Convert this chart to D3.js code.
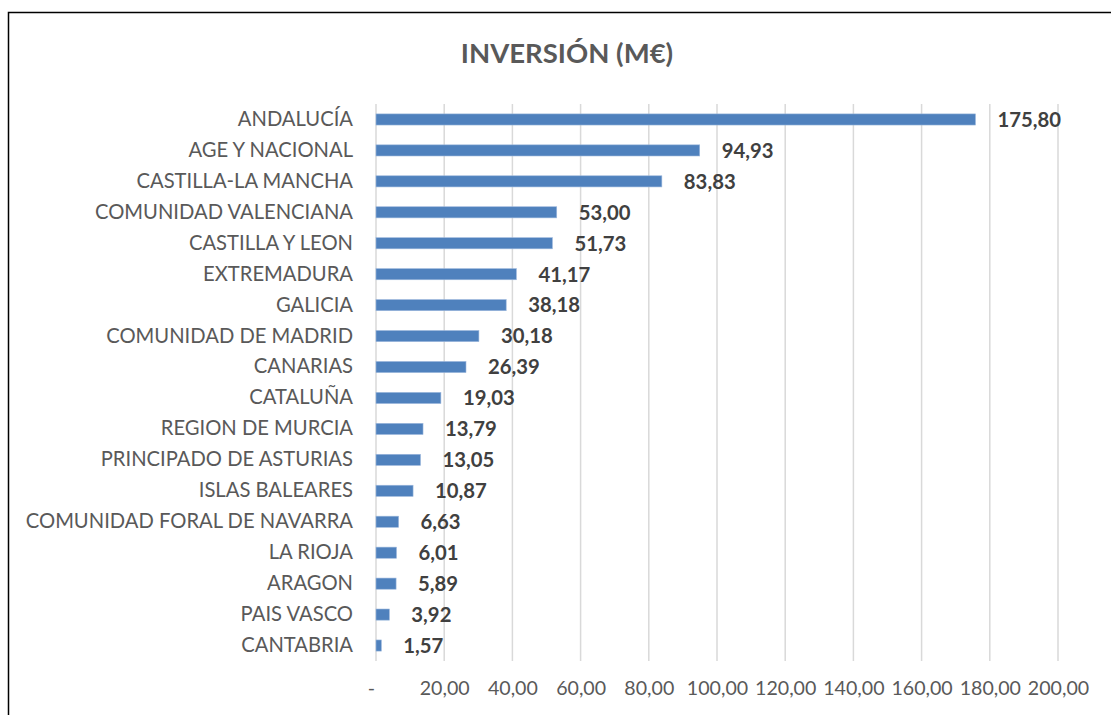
<!DOCTYPE html>
<html lang="es">
<head>
<meta charset="utf-8"/>
<title>Inversión (M€)</title>
<script src="https://cdn.jsdelivr.net/npm/d3@7"></script>
<style>
  body { margin: 0; background: #ffffff; }
  svg { display: block; font-family: Lato, "Open Sans", sans-serif; }
</style>
</head>
<body>
<svg id="chart"></svg>
<script>
const regions = [
  'ANDALUCÍA', 'AGE Y NACIONAL', 'CASTILLA-LA MANCHA', 'COMUNIDAD VALENCIANA',
  'CASTILLA Y LEON', 'EXTREMADURA', 'GALICIA', 'COMUNIDAD DE MADRID',
  'CANARIAS', 'CATALUÑA', 'REGION DE MURCIA', 'PRINCIPADO DE ASTURIAS',
  'ISLAS BALEARES', 'COMUNIDAD FORAL DE NAVARRA', 'LA RIOJA', 'ARAGON',
  'PAIS VASCO', 'CANTABRIA'
]
const inversion = [
  175.80, 94.93, 83.83, 53.00, 51.73, 41.17, 38.18, 30.18, 26.39,
  19.03, 13.79, 13.05, 10.87, 6.63, 6.01, 5.89, 3.92, 1.57
]
const ticks = [0, 20, 40, 60, 80, 100, 120, 140, 160, 180, 200]

const width = 1111
const height = 715

const svg = d3.select('#chart')
  .attr('width', width)
  .attr('height', height)

// chart frame (runs off the right and bottom edge)
svg.append('rect')
  .attr('x', 8.5)
  .attr('y', 12.5)
  .attr('width', 1120)
  .attr('height', 720)
  .attr('fill', '#ffffff')
  .attr('stroke', '#000000')
  .attr('stroke-width', 1.5)

svg.append('text')
  .attr('x', 567)
  .attr('y', 63)
  .attr('text-anchor', 'middle')
  .style('font-size', '27.5px')
  .style('font-weight', 'bold')
  .style('fill', '#595959')
  .text('INVERSIÓN (M€)')

const x = d3.scaleLinear().domain([0, 200]).range([376, 1058])
const y = d3.scaleBand().domain(regions).range([104, 661]).paddingInner(0.64).paddingOuter(0.32)

const fmt = v => v === 0 ? '-' : v.toFixed(2).replace('.', ',')

// vertical gridlines
svg.append('g')
  .selectAll('line')
  .data(ticks)
  .enter()
  .append('line')
  .attr('x1', d => x(d))
  .attr('x2', d => x(d))
  .attr('y1', 104)
  .attr('y2', 661)
  .attr('stroke', '#d9d9d9')
  .attr('stroke-width', 1.5)

// x axis labels
const xAxis = svg.append('g')
  .attr('transform', 'translate(0,661)')
  .call(d3.axisBottom(x).tickValues(ticks).tickFormat(fmt).tickSize(0).tickPadding(20))
xAxis.select('.domain').remove()
xAxis.selectAll('text')
  .attr('dx', d => d === 0 ? -5 : 0)
  .style('font-family', 'Lato, sans-serif')
  .style('font-size', '19.6px')
  .style('fill', '#595959')

// category labels
const yAxis = svg.append('g')
  .attr('transform', 'translate(376,0)')
  .call(d3.axisLeft(y).tickSize(0).tickPadding(23))
yAxis.select('.domain').remove()
yAxis.selectAll('text')
  .style('font-family', 'Lato, sans-serif')
  .style('font-size', '20.2px')
  .style('fill', '#595959')

const rows = regions.map((r, i) => ({ region: r, value: inversion[i] }))

svg.append('g')
  .selectAll('rect')
  .data(rows)
  .enter()
  .append('rect')
  .attr('x', x(0))
  .attr('y', d => y(d.region))
  .attr('width', d => x(d.value) - x(0))
  .attr('height', y.bandwidth())
  .attr('fill', '#4f81bd')
  .attr('stroke', '#9db8dd')
  .attr('stroke-width', 0.6)

svg.append('g')
  .selectAll('text')
  .data(rows)
  .enter()
  .append('text')
  .attr('x', d => x(d.value) + 22)
  .attr('y', d => y(d.region) + y.bandwidth() / 2)
  .attr('dy', '0.36em')
  .style('font-size', '20.3px')
  .style('font-weight', 'bold')
  .style('fill', '#404040')
  .text(d => fmt(d.value))
</script>
</body>
</html>
